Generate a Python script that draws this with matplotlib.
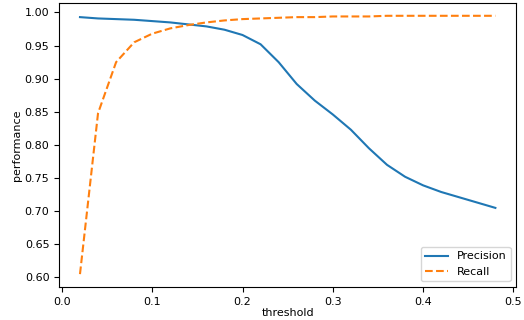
import matplotlib
matplotlib.use('Agg')
import matplotlib.pyplot as plt
import numpy as np

thresholds = [0.02, 0.04, 0.06, 0.08, 0.10, 0.12, 0.14, 0.16, 0.18, 0.20, 0.22, 0.24,
              0.26, 0.28, 0.30, 0.32, 0.34, 0.36, 0.38, 0.40, 0.42, 0.44, 0.46, 0.48]
precision = [0.993, 0.991, 0.990, 0.989, 0.987, 0.985, 0.982, 0.979, 0.974, 0.966, 0.952, 0.925,
             0.892, 0.867, 0.846, 0.823, 0.795, 0.770, 0.752, 0.739, 0.729, 0.721, 0.713, 0.705]
recall = [0.605, 0.848, 0.925, 0.955, 0.968, 0.976, 0.981, 0.985, 0.988, 0.990, 0.991, 0.992,
          0.993, 0.993, 0.994, 0.994, 0.994, 0.995, 0.995, 0.995, 0.995, 0.995, 0.995, 0.995]

plt.figure(figsize=(5.24, 3.2), dpi=100)
plt.plot(thresholds, precision, label='Precision')
plt.plot(thresholds, recall, linestyle='--', label='Recall')
plt.xlabel('threshold', fontsize=8, labelpad=1)
plt.ylabel('performance', fontsize=8, labelpad=2)
plt.xticks(fontsize=8)
plt.yticks(fontsize=8)
plt.legend(loc='lower right', fontsize=8)
plt.subplots_adjust(left=0.113, right=0.985, top=0.991, bottom=0.103)
plt.savefig('out.png', dpi=100)
